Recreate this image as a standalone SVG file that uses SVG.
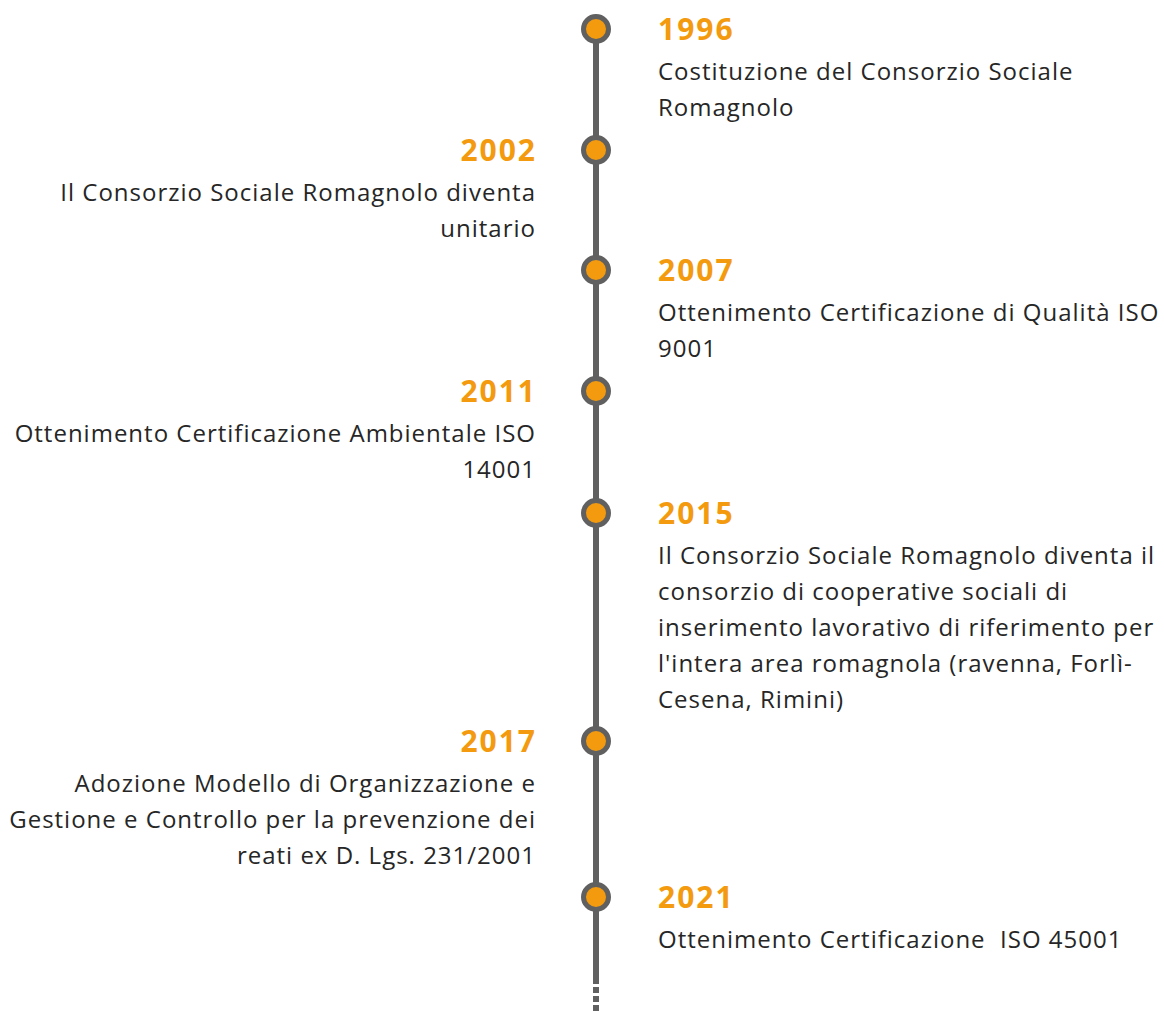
<svg xmlns="http://www.w3.org/2000/svg" width="1164" height="1013" viewBox="0 0 1164 1013">
<style>
.yr{font-family:"Open Sans","Noto Sans",sans-serif;font-weight:700;font-size:30px;fill:#F39A0E;letter-spacing:2px}
.tx{font-family:"Open Sans","Noto Sans",sans-serif;font-size:24px;fill:#262626;letter-spacing:1px}
.r{text-anchor:end}
.dot{fill:#F39A0E;stroke:#606060;stroke-width:5}
.axis{stroke:#606060;stroke-width:6;fill:none}
</style>
<rect width="1164" height="1013" fill="#fff"/>
<g id="connectors">
<line class="axis" x1="596" y1="29" x2="596" y2="984"/>
<line class="axis" x1="596" y1="987" x2="596" y2="1013" stroke-dasharray="6 3"/>
</g>
<g id="n1996">
<circle class="dot" cx="596" cy="29" r="12.5"/>
<text class="yr" x="658" y="40">1996</text>
<text class="tx" x="658" y="80">Costituzione del Consorzio Sociale</text>
<text class="tx" x="658" y="116">Romagnolo</text>
</g>
<g id="n2002">
<circle class="dot" cx="596" cy="150" r="12.5"/>
<text class="yr r" x="537" y="161">2002</text>
<text class="tx r" x="536" y="201">Il Consorzio Sociale Romagnolo diventa</text>
<text class="tx r" x="536" y="237">unitario</text>
</g>
<g id="n2007">
<circle class="dot" cx="596" cy="270" r="12.5"/>
<text class="yr" x="658" y="281">2007</text>
<text class="tx" x="658" y="321">Ottenimento Certificazione di Qualità ISO</text>
<text class="tx" x="658" y="357">9001</text>
</g>
<g id="n2011">
<circle class="dot" cx="596" cy="391" r="12.5"/>
<text class="yr r" x="537" y="402">2011</text>
<text class="tx r" x="536" y="442">Ottenimento Certificazione Ambientale ISO</text>
<text class="tx r" x="536" y="478">14001</text>
</g>
<g id="n2015">
<circle class="dot" cx="596" cy="513" r="12.5"/>
<text class="yr" x="658" y="524">2015</text>
<text class="tx" x="658" y="564">Il Consorzio Sociale Romagnolo diventa il</text>
<text class="tx" x="658" y="600">consorzio di cooperative sociali di</text>
<text class="tx" x="658" y="636">inserimento lavorativo di riferimento per</text>
<text class="tx" x="658" y="672">l'intera area romagnola (ravenna, Forlì-</text>
<text class="tx" x="658" y="708">Cesena, Rimini)</text>
</g>
<g id="n2017">
<circle class="dot" cx="596" cy="741" r="12.5"/>
<text class="yr r" x="537" y="752">2017</text>
<text class="tx r" x="536" y="792">Adozione Modello di Organizzazione e</text>
<text class="tx r" x="536" y="828">Gestione e Controllo per la prevenzione dei</text>
<text class="tx r" x="536" y="864">reati ex D. Lgs. 231/2001</text>
</g>
<g id="n2021">
<circle class="dot" cx="596" cy="897" r="12.5"/>
<text class="yr" x="658" y="908">2021</text>
<text class="tx" x="658" y="948" xml:space="preserve">Ottenimento Certificazione  ISO 45001</text>
</g>
</svg>
